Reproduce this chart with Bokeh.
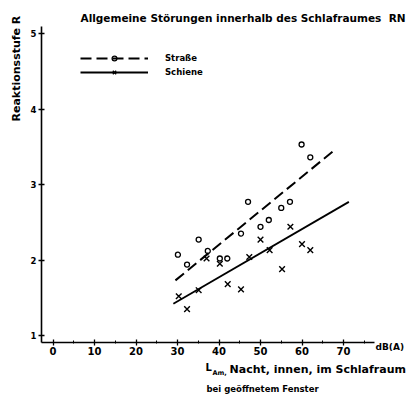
import math
from bokeh.plotting import figure
from bokeh.models import Range1d, Label, Legend, LegendItem, FixedTicker
from bokeh.embed import file_html
from bokeh.resources import INLINE

# ---- data ----
strasse_x = [30.1, 32.3, 35.1, 37.3, 40.2, 42.0, 45.3, 47.0, 50.0, 52.0, 55.0, 57.1, 59.9, 62.0]
strasse_y = [2.07, 1.94, 2.27, 2.12, 2.02, 2.02, 2.35, 2.77, 2.44, 2.53, 2.69, 2.77, 3.53, 3.36]
schiene_x = [30.3, 32.3, 35.1, 37.0, 40.2, 42.1, 45.3, 47.3, 50.0, 52.2, 55.2, 57.2, 60.0, 62.0]
schiene_y = [1.52, 1.35, 1.60, 2.02, 1.95, 1.68, 1.61, 2.04, 2.27, 2.13, 1.88, 2.44, 2.21, 2.13]
strasse_fit_x = [29.5, 67.7]
strasse_fit_y = [1.73, 3.45]
schiene_fit_x = [29.0, 71.3]
schiene_fit_y = [1.42, 2.77]
x_ticks = [0, 10, 20, 30, 40, 50, 60, 70]
x_minor = [5, 15, 25, 35, 45, 55, 65, 75]
y_ticks = [1, 2, 3, 4, 5]

NB = "\u00a0"
title_text = "Allgemeine Störungen innerhalb des Schlafraumes" + NB + NB + "RN"
ylabel_text = "Reaktionsstufe R"
legend_labels = ["Straße", "Schiene"]
xlabel_1 = "Nacht, innen, im Schlafraum"
xlabel_2 = "bei geöffnetem Fenster"

W, H = 408, 395
# pixel mapping of the reference: px = 52.5 + 4.15 x ; py = 335 - 75.5 (y - 1)
def px2x(px):
    return (px - 52.5) / 4.15


def py2y(py):
    return 1 + (335 - py) / 75.5


X0, X1 = px2x(0), px2x(W)
Y0, Y1 = py2y(H), py2y(0)
AX_X0, AX_X1 = px2x(41), px2x(374)   # extent of the drawn x axis
AX_Y0, AX_Y1 = py2y(342), py2y(26)   # extent of the drawn y axis

FONT = "DejaVu Sans"

p = figure(width=W, height=H, output_backend="svg", toolbar_location=None,
           x_range=Range1d(X0, X1), y_range=Range1d(Y0, Y1),
           min_border=0, min_border_left=0, min_border_right=0,
           min_border_top=0, min_border_bottom=0)
p.outline_line_color = None
p.xgrid.visible = False
p.ygrid.visible = False
p.background_fill_color = "white"
p.border_fill_color = "white"

for ax in (p.xaxis[0], p.yaxis[0]):
    ax.axis_line_width = 1.6
    ax.axis_line_color = "black"
    ax.major_tick_line_color = "black"
    ax.major_tick_line_width = 1.3
    ax.major_tick_in = 3
    ax.major_tick_out = 3
    ax.major_label_text_font = FONT
    ax.major_label_text_font_style = "bold"
    ax.major_label_text_color = "black"

p.xaxis.fixed_location = AX_Y0
p.xaxis.bounds = (AX_X0, AX_X1)
p.xaxis.ticker = FixedTicker(ticks=x_ticks, minor_ticks=x_minor)
p.xaxis.minor_tick_line_color = "black"
p.xaxis.minor_tick_in = 2
p.xaxis.minor_tick_out = 1
p.xaxis.major_label_standoff = 1
p.xaxis.major_label_text_font_size = "10px"

p.yaxis.fixed_location = AX_X0
p.yaxis.bounds = (AX_Y0, AX_Y1)
p.yaxis.ticker = FixedTicker(ticks=y_ticks)
p.yaxis.minor_tick_line_color = None
p.yaxis.major_label_standoff = 2
p.yaxis.major_label_text_font_size = "8.5px"

# regression lines
r_sd = p.line(strasse_fit_x, strasse_fit_y, line_color="black", line_width=2.0, line_dash="11 5")
r_sc = p.line(schiene_fit_x, schiene_fit_y, line_color="black", line_width=1.8)
# points
r_sp = p.scatter(strasse_x, strasse_y, marker="circle", size=5, fill_color=None,
                 line_color="black", line_width=1.3)
r_cp = p.scatter(schiene_x, schiene_y, marker="x", size=8, line_color="black", line_width=1.4)

legend = Legend(items=[LegendItem(label=legend_labels[0], renderers=[r_sd, r_sp]),
                       LegendItem(label=legend_labels[1], renderers=[r_sc, r_cp])],
                location=(80, H - 78), glyph_width=68, glyph_height=12, label_height=12,
                spacing=2, padding=0, margin=0, label_standoff=17,
                border_line_color=None, background_fill_alpha=0,
                label_text_font=FONT, label_text_font_style="bold",
                label_text_font_size="8.5px", label_text_color="black")
p.add_layout(legend, "center")


def add_text(px, py, text, size="8.5px", angle=0.0, align="left"):
    p.add_layout(Label(x=px2x(px), y=py2y(py), text=text, angle=angle,
                       text_align=align, text_baseline="middle",
                       text_font=FONT, text_font_style="bold",
                       text_font_size=size, text_color="black"))


add_text(80, 17, title_text, size="10.5px")
add_text(16, 121, ylabel_text, size="11px", angle=math.pi / 2)
add_text(375, 346, "dB(A)", size="9px")
add_text(205, 367, "L", size="10px")
add_text(212, 372, "Am,", size="6.5px")
add_text(229, 369, xlabel_1, size="11px")
add_text(206, 388, xlabel_2, size="8.5px")

open("out.html", "w").write(file_html(p, INLINE))
